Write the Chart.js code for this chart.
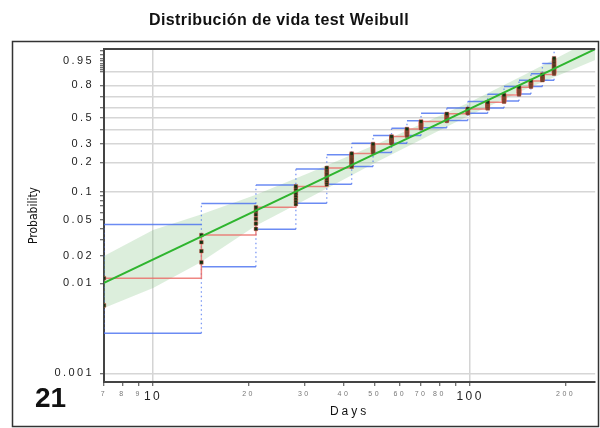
<!DOCTYPE html>
<html><head><meta charset="utf-8">
<script src="https://cdn.jsdelivr.net/npm/chart.js"></script>
<style>html,body{margin:0;padding:0;background:#fff;}#wrap{width:600px;height:428px;position:relative;}</style>
</head><body><div id="wrap"><canvas id="c" width="600" height="428"></canvas></div>
<script>
// ---------------- data ----------------
const titleText = 'Distribución de vida test Weibull';
const panelLabel = '21';
const xTitle = 'Days';
const yTitle = 'Probability';

const xTickValues = [7, 8, 9, 10, 20, 30, 40, 50, 60, 70, 80, 90, 100, 200];
const xTickLabels = ['7', '8', '9', '10', '20', '30', '40', '50', '60', '70', '80', '', '100', '200'];
const xGridValues = [10, 100];
const xMajorLabels = [10, 100];

const yTickValues = [0.001, 0.01, 0.02, 0.03, 0.04, 0.05, 0.06, 0.07, 0.08, 0.09, 0.1, 0.2, 0.3, 0.4, 0.5, 0.6, 0.7, 0.8, 0.9, 0.91, 0.92, 0.93, 0.94, 0.95, 0.96, 0.97, 0.98];
const yTickLabels = ['0.001', '0.01', '0.02', '', '', '0.05', '', '', '', '', '0.1', '0.2', '0.3', '', '0.5', '', '', '0.8', '', '', '', '', '', '0.95', '', '', ''];
const yGridValues = [0.001, 0.1, 0.2, 0.3, 0.4, 0.5, 0.6, 0.7, 0.8, 0.9];

// failure times (inspection days) and plotted cumulative probabilities
const failureDays = [7, 14.2, 21.1, 28.2, 35.3, 42.3, 49.4, 56.5, 63.2, 70, 84.4, 98.3, 113.6, 127.9, 142.6, 155.5, 169, 184];
const failureProbs = [
  [0.0057, 0.0114],
  [0.0171, 0.0227, 0.0284, 0.0341],
  [0.0398, 0.0455, 0.0511, 0.0568, 0.0625, 0.0682],
  [0.0739, 0.0795, 0.0852, 0.0909, 0.0966, 0.1023, 0.108, 0.1136],
  [0.1193, 0.125, 0.1307, 0.1364, 0.142, 0.1477, 0.1534, 0.1591, 0.1648, 0.1705, 0.1761],
  [0.1818, 0.1875, 0.1932, 0.1989, 0.2045, 0.2102, 0.2159, 0.2216, 0.2273, 0.233, 0.2386, 0.2443],
  [0.25, 0.2557, 0.2614, 0.267, 0.2727, 0.2784, 0.2841, 0.2898, 0.2955, 0.3011],
  [0.3068, 0.3125, 0.3182, 0.3239, 0.3295, 0.3352, 0.3409, 0.3466, 0.3523],
  [0.358, 0.3636, 0.3693, 0.375, 0.3807, 0.3864, 0.392, 0.3977, 0.4034, 0.4091],
  [0.4148, 0.4205, 0.4261, 0.4318, 0.4375, 0.4432, 0.4489, 0.4545, 0.4602, 0.4659, 0.4716],
  [0.4773, 0.483, 0.4886, 0.4943, 0.5, 0.5057, 0.5114, 0.517, 0.5227, 0.5284, 0.5341, 0.5398],
  [0.5455, 0.5511, 0.5568, 0.5625, 0.5682, 0.5739, 0.5795, 0.5852],
  [0.5909, 0.5966, 0.6023, 0.608, 0.6136, 0.6193, 0.625, 0.6307, 0.6364, 0.642, 0.6477],
  [0.6534, 0.6591, 0.6648, 0.6705, 0.6761, 0.6818, 0.6875, 0.6932, 0.6989, 0.7045, 0.7102, 0.7159],
  [0.7216, 0.7273, 0.733, 0.7386, 0.7443, 0.75, 0.7557, 0.7614, 0.767, 0.7727, 0.7784, 0.7841],
  [0.7898, 0.7955, 0.8011, 0.8068, 0.8125, 0.8182, 0.8239, 0.8295, 0.8352],
  [0.8409, 0.8466, 0.8523, 0.858, 0.8636, 0.8693, 0.875, 0.8807],
  [0.8864, 0.892, 0.8977, 0.9034, 0.9091, 0.9148, 0.9205, 0.9261, 0.9318, 0.9375, 0.9432, 0.9489, 0.9545, 0.9602]
];
// pointwise confidence bounds of the step estimate (level held from failureDays[i] to failureDays[i+1])
const upperBound = [0.0444, 0.0749, 0.1176, 0.172, 0.238, 0.305, 0.36, 0.415, 0.478, 0.545, 0.595, 0.655, 0.722, 0.79, 0.84, 0.885, 0.94];
const lowerBound = [0.0028, 0.0153, 0.0394, 0.0753, 0.12, 0.182, 0.25, 0.305, 0.36, 0.42, 0.48, 0.545, 0.595, 0.66, 0.725, 0.79, 0.84];
const lastUpper = 0.995;

// Weibull fit and its confidence band
const fitDays = [7, 248];
const fitProbs = [0.0101, 0.983];
const bandDays = [7, 10, 14, 21, 31, 50, 100, 150, 248];
const bandLower = [0.00533, 0.00888, 0.0168, 0.0428, 0.0857, 0.1974, 0.5291, 0.7693, 0.9543];
const bandUpper = [0.02006, 0.0387, 0.0563, 0.0923, 0.1565, 0.2945, 0.6504, 0.884, 0.9956];

// ---------------- Weibull probability scale ----------------
const wb = p => Math.log(-Math.log(1 - p));
class WeibullScale extends Chart.LinearScale {
  configure() {
    super.configure();
    this._wLo = wb(this.min);
    this._wHi = wb(this.max);
  }
  getPixelForValue(v) {
    if (v === null || v === undefined || isNaN(v)) return NaN;
    return this.getPixelForDecimal((wb(v) - this._wLo) / (this._wHi - this._wLo));
  }
  getValueForPixel(px) {
    const d = this.getDecimalForPixel(px);
    return 1 - Math.exp(-Math.exp(this._wLo + d * (this._wHi - this._wLo)));
  }
}
WeibullScale.id = 'weibull';
WeibullScale.defaults = {};
Chart.register(WeibullScale);

// ---------------- build datasets from the arrays ----------------
const pts = [];
failureDays.forEach((d, i) => failureProbs[i].forEach(p => pts.push({x: d, y: p})));
const redStep = failureDays.map((d, i) => ({x: d, y: failureProbs[i][failureProbs[i].length - 1]}));
function horiz(levels) {
  const out = [];
  levels.forEach((v, i) => {
    out.push({x: failureDays[i], y: v}, {x: failureDays[i + 1], y: v}, {x: failureDays[i + 1], y: null});
  });
  return out;
}
const verts = [];
failureDays.forEach((d, i) => {
  const lo = i === 0 ? lowerBound[0] : lowerBound[i - 1];
  const hi = i < upperBound.length ? upperBound[i] : lastUpper;
  verts.push({x: d, y: lo}, {x: d, y: hi}, {x: d, y: null});
});
const fitLine = fitDays.map((d, i) => ({x: d, y: fitProbs[i]}));
const bandLo = bandDays.map((d, i) => ({x: d, y: bandLower[i]}));
const bandHi = bandDays.map((d, i) => ({x: d, y: bandUpper[i]}));

const FONT = 'Liberation Sans, Arial, sans-serif';

function spaced(scale, labelSp, titleSp) {
  if (scale._spPatched) return;
  scale._spPatched = true;
  const dl = scale.drawLabels, dt = scale.drawTitle;
  scale.drawLabels = function (a) { const c = this.ctx; c.save(); c.letterSpacing = labelSp; dl.call(this, a); c.restore(); };
  scale.drawTitle = function (a) { const c = this.ctx; c.save(); c.letterSpacing = titleSp; dt.call(this, a); c.restore(); };
}

const decor = {
  id: 'decor',
  afterDraw(chart) {
    const ctx = chart.ctx, a = chart.chartArea;
    ctx.save();
    ctx.letterSpacing = '0px';
    // plot top border
    ctx.strokeStyle = '#444'; ctx.lineWidth = 2;
    ctx.beginPath(); ctx.moveTo(a.left - 1, a.top); ctx.lineTo(a.right, a.top); ctx.stroke();
    // outer frame
    ctx.strokeStyle = '#333'; ctx.lineWidth = 1.5;
    ctx.strokeRect(12.5, 41.5, 586, 385);
    // title
    ctx.fillStyle = '#111';
    ctx.font = 'bold 16px ' + FONT;
    ctx.letterSpacing = '0.4px';
    ctx.textAlign = 'center'; ctx.textBaseline = 'alphabetic';
    ctx.fillText(titleText, 279, 25);
    // panel number
    ctx.letterSpacing = '0px';
    ctx.font = 'bold 28px ' + FONT;
    ctx.textAlign = 'left';
    ctx.fillText(panelLabel, 35, 406.5);
    ctx.restore();
  }
};

new Chart(document.getElementById('c'), {
  type: 'line',
  data: {
    datasets: [
      {data: bandLo, borderWidth: 0, pointRadius: 0, fill: false, order: 5, clip: 0},
      {data: bandHi, borderWidth: 0, pointRadius: 0, fill: '-1', backgroundColor: 'rgba(130,195,130,0.28)', order: 5, clip: 0},
      {data: horiz(upperBound), borderColor: 'rgba(70,110,240,0.8)', borderWidth: 1.5, pointRadius: 0, order: 3, clip: 0},
      {data: horiz(lowerBound), borderColor: 'rgba(70,110,240,0.8)', borderWidth: 1.5, pointRadius: 0, order: 3, clip: 0},
      {data: verts, borderColor: 'rgba(70,110,240,0.7)', borderWidth: 1.3, borderDash: [1.5, 3], pointRadius: 0, order: 3, clip: 0},
      {data: redStep, stepped: true, borderColor: 'rgba(235,105,100,0.8)', borderWidth: 1.5, pointRadius: 0, order: 2, clip: 0},
      {data: pts, showLine: false, pointStyle: 'rect', pointRadius: 2.6, pointBorderWidth: 0.8,
       pointBorderColor: 'rgba(225,85,75,0.55)', pointBackgroundColor: '#123512', order: 1, clip: 0},
      {data: fitLine, borderColor: '#2fb52f', borderWidth: 2, pointRadius: 0, order: 0, clip: 0}
    ]
  },
  options: {
    responsive: false,
    animation: false,
    devicePixelRatio: 1,
    layout: {padding: {top: 49, right: 3, bottom: 0, left: 0}},
    plugins: {legend: {display: false}, tooltip: {enabled: false}, title: {display: false}},
    scales: {
      x: {
        type: 'logarithmic', min: 7, max: 248, bounds: 'data',
        afterBuildTicks: s => { s.ticks = xTickValues.map(v => ({value: v})); },
        afterFit: s => { s.height = 46; spaced(s, '2.5px', '3px'); },
        ticks: {
          autoSkip: false, maxRotation: 0, minRotation: 0, padding: 3.6,
          callback: v => xTickLabels[xTickValues.indexOf(v)],
          font: c => xMajorLabels.includes(c.tick && c.tick.value) ? {family: FONT, size: 12} : {family: FONT, size: 7},
          color: c => xMajorLabels.includes(c.tick && c.tick.value) ? '#222' : '#777'
        },
        grid: {
          color: c => (c.tick && xGridValues.includes(c.tick.value)) ? '#d4d4d4' : 'rgba(0,0,0,0)',
          lineWidth: 1.5, tickLength: 4, tickColor: '#444', tickWidth: 1
        },
        border: {display: true, color: '#444', width: 2},
        title: {display: true, text: xTitle, font: {family: FONT, size: 12}, color: '#111', padding: {top: 0, bottom: 9.3}}
      },
      y: {
        type: 'weibull', min: 0.000801, max: 0.98326, bounds: 'data',
        afterBuildTicks: s => { s.ticks = yTickValues.map(v => ({value: v})); },
        afterFit: s => { s.width = 104; spaced(s, '2.4px', '0px'); },
        ticks: {
          autoSkip: false, padding: 6,
          callback: v => yTickLabels[yTickValues.indexOf(v)],
          font: {family: FONT, size: 11}, color: '#222'
        },
        grid: {
          color: c => (c.tick && yGridValues.includes(c.tick.value)) ? '#d6d6d6' : 'rgba(0,0,0,0)',
          lineWidth: 1.5, tickLength: 4, tickColor: '#444', tickWidth: 1
        },
        border: {display: true, color: '#444', width: 2},
        title: {display: true, text: yTitle, font: {family: 'Liberation Sans Narrow, DejaVu Sans Condensed, Arial Narrow, sans-serif', size: 12}, color: '#111', padding: {top: 27, bottom: 0}}
      }
    }
  },
  plugins: [decor]
});
</script></body></html>
